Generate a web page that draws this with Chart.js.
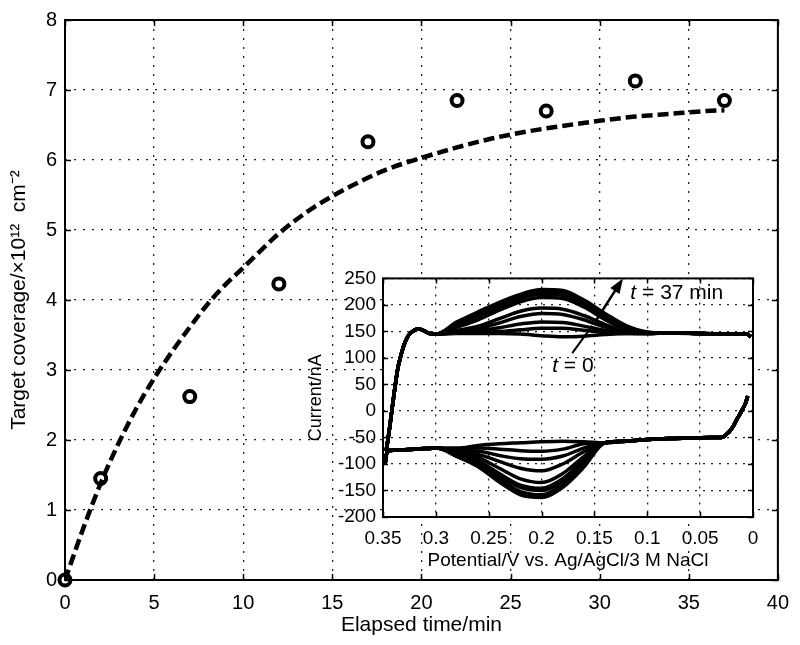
<!DOCTYPE html>
<html>
<head>
<meta charset="utf-8">
<script src="https://cdn.jsdelivr.net/npm/chart.js@4.4.1/dist/chart.umd.min.js"></script>
<style>
html, body { margin: 0; padding: 0; background: #fff; }
#wrap { position: relative; width: 800px; height: 645px; }
#mainChart { position: absolute; left: 0; top: 0; }
#insetChart { position: absolute; left: 300px; top: 260px; }
</style>
</head>
<body>
<div id="wrap">
  <canvas id="mainChart" width="800" height="645"></canvas>
  <canvas id="insetChart" width="470" height="320"></canvas>
</div>
<script>
// main plot: measured coverage and fitted curve
var elapsedTime = [0, 2, 7, 12, 17, 22, 27, 32, 37];
var coverage = [0, 1.45, 2.62, 4.23, 6.26, 6.85, 6.70, 7.13, 6.85];
var fitTime = [0, 1, 2, 3, 4, 5, 6, 7, 8, 9, 10, 12, 14, 16, 18, 20, 22, 24, 26, 28, 30, 32, 34, 36, 37];
var fitCoverage = [0, 0.72, 1.38, 1.95, 2.45, 2.88, 3.26, 3.61, 3.94, 4.22, 4.46, 4.95, 5.33, 5.62, 5.86, 6.03, 6.18, 6.31, 6.41, 6.49, 6.56, 6.62, 6.66, 6.70, 6.71];

// inset: voltammograms, one per elapsed time
var upperLeftV = [0.347, 0.345, 0.342, 0.339, 0.336, 0.333, 0.330, 0.326, 0.322, 0.317, 0.312, 0.306, 0.300];
var upperLeftI = [-75, -50, -5, 40, 80, 105, 125, 142, 150, 155, 152, 146, 145];
var upperPeakV = [0.28, 0.26, 0.24, 0.22, 0.20, 0.18, 0.16, 0.14, 0.12, 0.10];
var upperPeakI = [
  [146, 146, 146, 145, 142, 140, 141, 144, 146, 146],
  [147, 148, 150, 153, 156, 156, 152, 148, 146, 146],
  [148, 151, 157, 164, 168, 167, 160, 152, 147, 146],
  [150, 156, 166, 178, 184, 182, 172, 158, 149, 146],
  [152, 160, 174, 188, 194, 192, 180, 163, 150, 147],
  [158, 172, 190, 206, 214, 212, 196, 172, 154, 147],
  [162, 178, 196, 212, 220, 218, 202, 176, 156, 147],
  [165, 183, 201, 217, 226, 224, 206, 180, 158, 148],
  [168, 187, 205, 220, 229, 227, 209, 184, 161, 149]
];
var upperRightV = [0.08, 0.05, 0.02, 0.006, 0.002];
var upperRightI = [147, 146, 145, 145, 140];

var lowerLeftV = [0.348, 0.346, 0.34, 0.33, 0.32, 0.31, 0.30];
var lowerLeftI = [-100, -76, -74, -73, -72, -71, -70];
var lowerPeakV = [0.28, 0.26, 0.24, 0.22, 0.20, 0.18, 0.16];
var lowerPeakI = [
  [-70, -65, -62, -60, -58, -57, -58],
  [-73, -70, -72, -75, -76, -72, -62],
  [-75, -76, -84, -90, -91, -85, -70],
  [-77, -82, -95, -108, -113, -100, -77],
  [-79, -88, -108, -128, -135, -118, -86],
  [-81, -94, -118, -140, -146, -128, -92],
  [-82, -96, -122, -144, -150, -132, -95],
  [-84, -100, -128, -152, -158, -138, -100],
  [-86, -105, -134, -158, -163, -144, -106]
];
var lowerRightV = [0.14, 0.12, 0.10, 0.08, 0.06, 0.04, 0.03, 0.025, 0.02, 0.015, 0.01, 0.007, 0.005];
var lowerRightI = [-60, -57, -54, -52, -51, -50, -50, -44, -33, -15, 3, 15, 28];

var FONT = 'Liberation Sans, Arial, Helvetica, sans-serif';

function toPoints(xs, ys) {
  return xs.map(function (x, k) { return { x: x, y: ys[k] }; });
}

function branch(vL, iL, vM, iM, vR, iR) {
  return toPoints(vL.concat(vM, vR), iL.concat(iM, iR));
}

// box around the plot area with inward tick marks, as in the original
var boxPlugin = {
  id: 'box',
  beforeDraw: function (chart, args, opts) {
    if (!opts.fill) return;
    var a = chart.chartArea, ctx = chart.ctx;
    ctx.save();
    ctx.fillStyle = '#fff';
    ctx.fillRect(a.left, a.top, a.right - a.left, a.bottom - a.top);
    ctx.restore();
  },
  afterDraw: function (chart, args, opts) {
    var a = chart.chartArea, ctx = chart.ctx, sx = chart.scales.x, sy = chart.scales.y;
    var len = opts.tickLength || 6;
    ctx.save();
    ctx.strokeStyle = '#000';
    ctx.lineWidth = 1.5;
    ctx.beginPath();
    sx.ticks.forEach(function (t) {
      var px = Math.round(sx.getPixelForValue(t.value)) + 0.5;
      ctx.moveTo(px, a.bottom); ctx.lineTo(px, a.bottom - len);
      ctx.moveTo(px, a.top); ctx.lineTo(px, a.top + len);
    });
    sy.ticks.forEach(function (t) {
      var py = Math.round(sy.getPixelForValue(t.value)) + 0.5;
      ctx.moveTo(a.left, py); ctx.lineTo(a.left + len, py);
      ctx.moveTo(a.right, py); ctx.lineTo(a.right - len, py);
    });
    ctx.stroke();
    ctx.lineWidth = 2;
    ctx.strokeRect(a.left, a.top, a.right - a.left, a.bottom - a.top);
    ctx.restore();
  }
};

// labels and arrows inside the inset (data coordinates)
var note37 = { v: 0.116, i: 222 };
var note0 = { v: 0.19, i: 85 };
var arrow37 = [0.148, 172, 0.123, 250];
var line0 = [0.171, 109, 0.152, 161];

var notesPlugin = {
  id: 'notes',
  afterDatasetsDraw: function (chart) {
    var ctx = chart.ctx, sx = chart.scales.x, sy = chart.scales.y;
    function px(v) { return sx.getPixelForValue(v); }
    function py(i) { return sy.getPixelForValue(i); }
    ctx.save();
    ctx.strokeStyle = '#000';
    ctx.fillStyle = '#000';
    ctx.lineWidth = 2.5;

    var x1 = px(arrow37[0]), y1 = py(arrow37[1]), x2 = px(arrow37[2]), y2 = py(arrow37[3]);
    var ang = Math.atan2(y2 - y1, x2 - x1);
    ctx.beginPath();
    ctx.moveTo(x1, y1);
    ctx.lineTo(x2 - 8 * Math.cos(ang), y2 - 8 * Math.sin(ang));
    ctx.stroke();
    ctx.beginPath();
    ctx.moveTo(x2, y2);
    ctx.lineTo(x2 - 15 * Math.cos(ang) + 5.5 * Math.sin(ang), y2 - 15 * Math.sin(ang) - 5.5 * Math.cos(ang));
    ctx.lineTo(x2 - 15 * Math.cos(ang) - 5.5 * Math.sin(ang), y2 - 15 * Math.sin(ang) + 5.5 * Math.cos(ang));
    ctx.closePath();
    ctx.fill();

    ctx.lineWidth = 2;
    ctx.beginPath();
    ctx.moveTo(px(line0[0]), py(line0[1]));
    ctx.lineTo(px(line0[2]), py(line0[3]));
    ctx.stroke();

    function label(pos, rest) {
      var x = px(pos.v), y = py(pos.i);
      ctx.textBaseline = 'middle';
      ctx.textAlign = 'left';
      ctx.font = 'italic 21px ' + FONT;
      ctx.fillText('t', x, y);
      var w = ctx.measureText('t').width;
      ctx.font = '21px ' + FONT;
      ctx.fillText(rest, x + w, y);
    }
    label(note37, ' = 37 min');
    label(note0, ' = 0');
    ctx.restore();
  }
};

var mainChart = new Chart(document.getElementById('mainChart'), {
  type: 'line',
  data: {
    datasets: [{
      label: 'Measured',
      data: toPoints(elapsedTime, coverage),
      showLine: false,
      pointRadius: 5.5,
      pointBorderWidth: 4,
      pointBorderColor: '#000',
      pointBackgroundColor: 'rgba(0,0,0,0)',
      clip: false
    }, {
      label: 'Fit',
      data: toPoints(fitTime, fitCoverage),
      borderColor: '#000',
      borderWidth: 4.5,
      borderDash: [11, 5],
      pointRadius: 0,
      cubicInterpolationMode: 'monotone',
      fill: false
    }]
  },
  options: {
    responsive: false,
    animation: false,
    layout: { padding: { left: 0, top: 15, right: 19, bottom: 0 } },
    plugins: {
      legend: { display: false },
      tooltip: { enabled: false },
      box: { tickLength: 6 }
    },
    scales: {
      x: {
        type: 'linear', min: 0, max: 40,
        afterFit: function (s) { s.height = 65; },
        ticks: { stepSize: 5, color: '#000', padding: 11, maxRotation: 0, font: { family: FONT, size: 20 } },
        grid: { color: '#222', lineWidth: 1.3, drawTicks: false },
        border: { display: false, dash: [2, 7] },
        title: { display: true, text: 'Elapsed time/min', color: '#000', font: { family: FONT, size: 21 }, padding: { top: 0, bottom: 7 } }
      },
      y: {
        type: 'linear', min: 0, max: 8,
        afterFit: function (s) { s.width = 65; },
        ticks: { stepSize: 1, color: '#000', padding: 8, font: { family: FONT, size: 20 } },
        grid: { color: '#222', lineWidth: 1.3, drawTicks: false },
        border: { display: false, dash: [2, 7] },
        title: { display: true, text: 'Target coverage/×10¹²  cm⁻²', color: '#000', font: { family: FONT, size: 21 }, padding: { top: 7, bottom: 0 } }
      }
    }
  },
  plugins: [boxPlugin]
});

var insetSets = [];
elapsedTime.forEach(function (t, k) {
  insetSets.push({
    label: 'anodic ' + t + ' min',
    data: branch(upperLeftV, upperLeftI, upperPeakV, upperPeakI[k], upperRightV, upperRightI)
  });
  insetSets.push({
    label: 'cathodic ' + t + ' min',
    data: branch(lowerLeftV, lowerLeftI, lowerPeakV, lowerPeakI[k], lowerRightV, lowerRightI)
  });
});
insetSets.forEach(function (d) {
  d.borderColor = '#000';
  d.borderWidth = 3.5;
  d.pointRadius = 0;
  d.fill = false;
  d.cubicInterpolationMode = 'monotone';
});

var insetChart = new Chart(document.getElementById('insetChart'), {
  type: 'line',
  data: { datasets: insetSets },
  options: {
    responsive: false,
    animation: false,
    layout: { padding: { left: 0, top: 14, right: 17, bottom: 0 } },
    plugins: {
      legend: { display: false },
      tooltip: { enabled: false },
      box: { tickLength: 5, fill: true }
    },
    scales: {
      x: {
        type: 'linear', min: 0, max: 0.35, reverse: true,
        afterFit: function (s) { s.height = 63; },
        ticks: {
          stepSize: 0.05, color: '#000', padding: 10, maxRotation: 0, autoSkip: false,
          font: { family: FONT, size: 19 },
          callback: function (v) { return String(+v.toFixed(2)); }
        },
        grid: { color: '#222', lineWidth: 1.3, drawTicks: false },
        border: { display: false, dash: [2, 6] },
        title: { display: true, text: 'Potential/V vs. Ag/AgCl/3 M NaCl', color: '#000', font: { family: FONT, size: 19 }, padding: { top: 0, bottom: 8 } }
      },
      y: {
        type: 'linear', min: -200, max: 250,
        afterFit: function (s) { s.width = 83; },
        ticks: { stepSize: 50, color: '#000', padding: 7, autoSkip: false, font: { family: FONT, size: 19 } },
        grid: { color: '#222', lineWidth: 1.3, drawTicks: false },
        border: { display: false, dash: [2, 6] },
        title: { display: true, text: 'Current/nA', color: '#000', font: { family: FONT, size: 18 }, padding: { top: 5, bottom: 0 } }
      }
    }
  },
  plugins: [boxPlugin, notesPlugin]
});
</script>
</body>
</html>
